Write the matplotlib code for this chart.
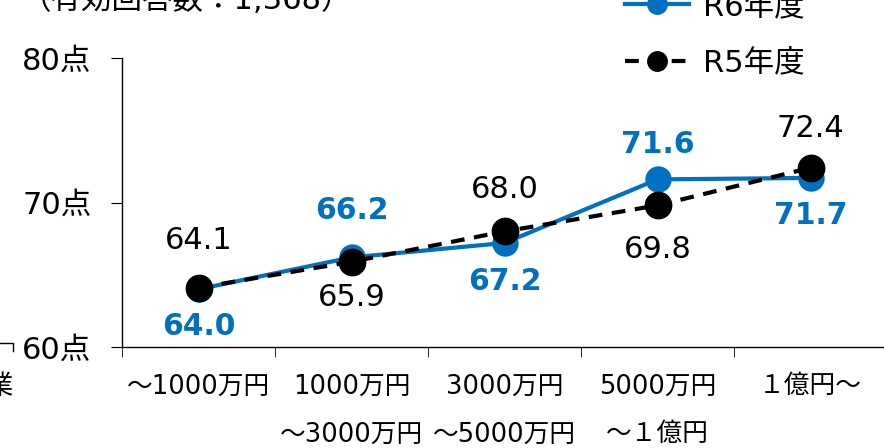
import numpy as np
import matplotlib
matplotlib.use('Agg')
import matplotlib.pyplot as plt
from matplotlib.lines import Line2D

plt.rcParams['font.family'] = ['DejaVu Sans', 'Noto Sans CJK JP']

categories = ['～1000万円', '1000万円\n～3000万円', '3000万円\n～5000万円', '5000万円\n～１億円', '１億円～']
r6 = [64.0, 66.2, 67.2, 71.6, 71.7]
r5 = [64.1, 65.9, 68.0, 69.8, 72.4]
# ラベルのずらし量 (points, +上 / -下)
r6_off = [-27, 34, -28, 25, -27]
r5_off = [34, -26, 30, -32, 28]

blue = '#0070C0'

fig = plt.figure(figsize=(8.84, 4.48), dpi=100)
ax = fig.add_axes([122/884, 101/448, 765/884, 289/448])

x = np.arange(len(categories))
ax.plot(x, r6, color=blue, lw=3, marker='o', ms=18, label='R6年度', zorder=3)
ax.plot(x, r5, color='black', lw=3, ls=(0, (3.3, 2.3)), marker='o', ms=19,
        label='R5年度', zorder=4)

for i in range(len(x)):
    ax.annotate('%.1f' % r6[i], (x[i], r6[i]), xytext=(0, r6_off[i]), textcoords='offset points',
                ha='center', va='center', color=blue, fontsize=21.5, fontweight='bold')
    ax.annotate('%.1f' % r5[i], (x[i], r5[i]), xytext=(0, r5_off[i]), textcoords='offset points',
                ha='center', va='center', color='black', fontsize=22)

ax.set_xlim(-0.5, 4.5)
ax.set_ylim(60, 80)
ax.set_yticks([60, 70, 80])
ax.set_yticklabels(['60点', '70点', '80点'], fontsize=22)
ax.set_xticks(x)
ax.set_xticklabels(categories, fontsize=18.5, linespacing=2.1, va='top')
ax.set_xticks(np.arange(-0.5, 5, 1), minor=True)
ax.tick_params(axis='x', which='major', length=0, pad=19)
ax.tick_params(axis='x', which='minor', length=7, direction='out')
ax.tick_params(axis='y', length=8, direction='out', pad=14)
for s in ['top', 'right']:
    ax.spines[s].set_visible(False)
for s in ['left', 'bottom']:
    ax.spines[s].set_linewidth(1)

fig.text(21/884, 1 - 9/448, '（有効回答数：1,368）', fontsize=22, va='baseline', ha='left')
fig.text(0.014, 1 - 387/448, '業', fontsize=19, ha='right', va='center')
fig.add_artist(Line2D([0, 13/884, 13/884], [1 - 343/448, 1 - 343/448, 1 - 351/448],
                      color='black', lw=1))

leg = fig.legend(loc='upper left', bbox_to_anchor=(625/884, 1.018), frameon=False,
                 fontsize=22, handlelength=2.1, labelspacing=0.9, handletextpad=0.45,
                 borderaxespad=0, borderpad=0)
for h in leg.legend_handles:
    h.set_markersize(14)

fig.savefig('out.png', dpi=100)
